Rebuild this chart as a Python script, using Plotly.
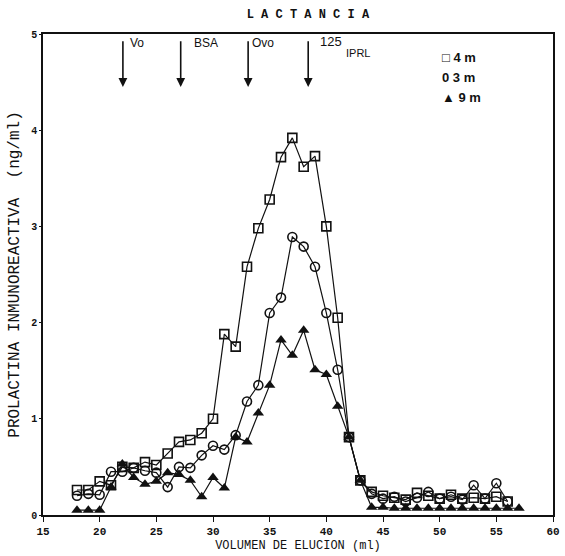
import plotly.graph_objects as go

# Elution volume of each collected fraction (ml)
vol_4m = list(range(18, 57))
vol_3m = list(range(18, 57))
vol_9m = list(range(18, 58))

# Immunoreactive prolactin (ng/ml) per fraction
prl_4m = [0.26, 0.26, 0.35, 0.31, 0.50, 0.49, 0.55, 0.52, 0.64, 0.76, 0.78, 0.85,
          1.00, 1.88, 1.75, 2.58, 2.98, 3.28, 3.72, 3.92, 3.62, 3.73, 3.00, 2.05,
          0.81, 0.36, 0.24, 0.20, 0.18, 0.16, 0.23, 0.20, 0.17, 0.21, 0.17, 0.18,
          0.17, 0.19, 0.14]
prl_3m = [0.20, 0.22, 0.21, 0.45, 0.45, 0.49, 0.46, 0.44, 0.29, 0.50, 0.49, 0.62,
          0.72, 0.68, 0.83, 1.18, 1.35, 2.10, 2.26, 2.89, 2.79, 2.58, 2.10, 1.51,
          0.81, 0.36, 0.22, 0.17, 0.19, 0.14, 0.18, 0.24, 0.17, 0.19, 0.16, 0.31,
          0.17, 0.33, 0.14]
prl_9m = [0.05, 0.05, 0.05, 0.29, 0.53, 0.39, 0.32, 0.35, 0.44, 0.42, 0.36, 0.19,
          0.39, 0.28, 0.81, 0.76, 1.06, 1.35, 1.82, 1.66, 1.92, 1.51, 1.46, 1.13,
          0.81, 0.36, 0.08, 0.08, 0.07, 0.07, 0.07, 0.07, 0.07, 0.07, 0.07, 0.07,
          0.07, 0.07, 0.07, 0.07]

# Column calibration markers: name and elution volume (ml)
marker_names = ["Vo", "BSA", "Ovo", "IPRL"]
marker_vols = [22.05, 27.15, 33.1, 38.4]

x_ticks = [15, 20, 25, 30, 35, 40, 45, 50, 55, 60]
y_ticks = [0, 1, 2, 3, 4, 5]

legend_labels = ["\u25a1 4 m", "0 3 m", "\u25b2 9 m"]

INK = "#111111"
MONO = "Liberation Mono, Courier New, monospace"
SANS = "Liberation Sans, Arial, sans-serif"

fig = go.Figure()

fig.add_trace(go.Scatter(
    x=vol_4m, y=prl_4m, mode="lines+markers", name="4 m",
    line=dict(color=INK, width=1.2),
    marker=dict(symbol="square-open", size=9, color=INK, line=dict(width=1.6)),
))
fig.add_trace(go.Scatter(
    x=vol_3m, y=prl_3m, mode="lines+markers", name="3 m",
    line=dict(color=INK, width=1.2),
    marker=dict(symbol="circle-open", size=9, color=INK, line=dict(width=1.6)),
))
fig.add_trace(go.Scatter(
    x=vol_9m, y=prl_9m, mode="lines+markers", name="9 m",
    line=dict(color=INK, width=1.2),
    marker=dict(symbol="triangle-up", size=10, color=INK),
))

# Downward arrows marking the calibration proteins
label_dx = {"Vo": 0.45, "BSA": 1.0, "Ovo": 0.2}
for name, v in zip(marker_names, marker_vols):
    fig.add_annotation(
        x=v, y=4.45, ax=v, ay=4.94, xref="x", yref="y", axref="x", ayref="y",
        showarrow=True, arrowhead=2, arrowsize=1.1, arrowwidth=1.6,
        arrowcolor=INK, text="",
    )
    if name == "IPRL":
        fig.add_annotation(x=v + 0.85, y=4.92, xref="x", yref="y", text="125",
                           showarrow=False, xanchor="left",
                           font=dict(family=SANS, size=13, color=INK))
        fig.add_annotation(x=v + 3.2, y=4.80, xref="x", yref="y", text="IPRL",
                           showarrow=False, xanchor="left",
                           font=dict(family=SANS, size=11, color=INK))
    else:
        fig.add_annotation(x=v + label_dx[name], y=4.91, xref="x", yref="y",
                           text=name, showarrow=False, xanchor="left",
                           font=dict(family=SANS, size=12, color=INK))

# Legend written as text in the upper right corner
for i, lab in enumerate(legend_labels):
    fig.add_annotation(x=50.0, y=4.76 - 0.21 * i, xref="x", yref="y", text=lab,
                       showarrow=False, xanchor="left",
                       font=dict(family=SANS, size=13, color=INK, weight="bold"))

fig.update_layout(
    width=565, height=556,
    margin=dict(l=43, r=5, t=34, b=41),
    paper_bgcolor="white", plot_bgcolor="white",
    showlegend=False,
    title=dict(text="L A C T A N C I A", x=0.545, xanchor="center", y=0.975,
               yanchor="middle",
               font=dict(family=MONO, size=12, color=INK, weight="bold")),
)

fig.update_xaxes(
    range=[15, 60], tickvals=x_ticks, ticktext=[str(t) for t in x_ticks],
    showline=True, mirror=True, linecolor=INK, linewidth=1.5,
    ticks="outside", ticklen=5, tickcolor=INK, tickwidth=1.3,
    showgrid=False, zeroline=False,
    tickfont=dict(family=MONO, size=11, color=INK, weight="bold"),
    title=dict(text="VOLUMEN DE ELUCION (ml)", standoff=4,
               font=dict(family=MONO, size=12, color=INK)),
)
fig.update_yaxes(
    range=[0, 5], tickvals=y_ticks, ticktext=[str(t) for t in y_ticks],
    showline=True, mirror=True, linecolor=INK, linewidth=1.5,
    ticks="outside", ticklen=2, tickcolor=INK,
    showgrid=False, zeroline=False,
    tickfont=dict(family=MONO, size=10, color=INK, weight="bold"),
    title=dict(text="PROLACTINA INMUNOREACTIVA  (ng/ml)", standoff=8,
               font=dict(family=MONO, size=16, color=INK)),
)

fig.write_html("out.html")
